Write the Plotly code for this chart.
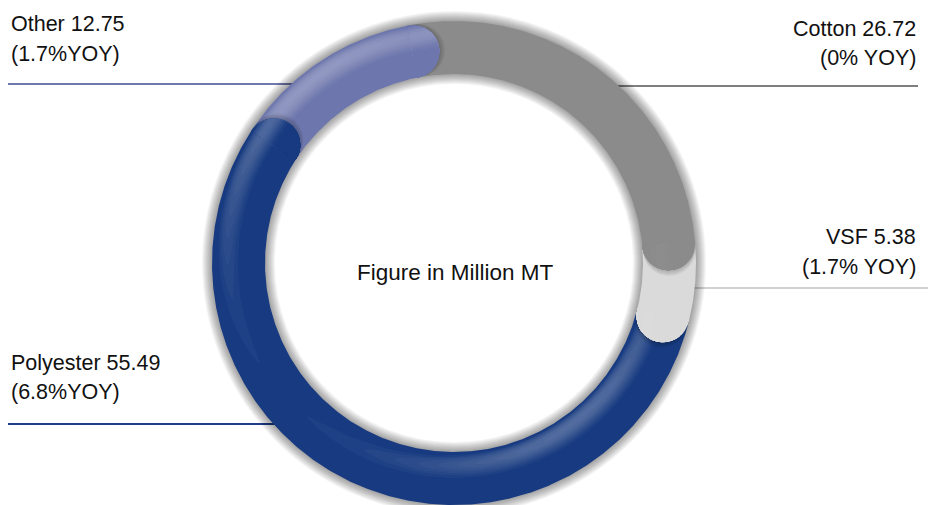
import numpy as np
import plotly.graph_objects as go

# ---- data -------------------------------------------------------------
categories = ["Cotton", "VSF", "Polyester", "Other"]
values = [26.72, 5.38, 55.49, 12.75]
yoy_labels = ["(0% YOY)", "(1.7% YOY)", "(6.8%YOY)", "(1.7%YOY)"]
base_colors = ["#8b8b8b", "#dadada", "#173a80", "#6e77ad"]
leader_colors = ["#7f7f7f", "#d2d2d2", "#1f3d86", "#6f78ae"]
highlight_strength = [0.3, 0.15, 1.0, 1.0]
center_label = "Figure in Million MT"

# ---- layout constants (pixel space, y grows downward) ------------------
W, H = 930, 505
CX, CY = 454, 263
R_IN, R_OUT = 189, 242
R_MID = (R_IN + R_OUT) / 2
HALF = (R_OUT - R_IN) / 2
START_DEG = -11.0          # clockwise from 12 o'clock
N_STRIPS = 20              # bands used for the rounded ends
N_LAYERS = 10              # translucent highlight layers along each segment
LIGHT = np.array([-0.6, -0.8])   # in-plane light direction (screen coords)
LIGHT_XY, LIGHT_Z = 0.6, 0.8
PEAK = 0.28
FONT = "Liberation Sans, Arial, Helvetica, sans-serif"
LABEL_SIZE = 21.5
CENTER_SIZE = 22.5

# label placement: (x, anchor, first baseline, second baseline, leader y, leader x-end)
label_pos = {
    "Cotton":    (918, "right", 37, 66, 86, 918),
    "VSF":       (918, "right", 245, 275, 288, 928),
    "Polyester": (9, "left", 371, 400, 424, 8),
    "Other":     (9, "left", 32, 62, 84, 8),
}


def hex_rgb(h):
    h = h.lstrip("#")
    return [int(h[i:i + 2], 16) for i in (0, 2, 4)]


def shade(hexcol, k):
    r = []
    for c in hex_rgb(hexcol):
        c = c + (255 - c) * k if k >= 0 else c * (1 + k)
        r.append(int(round(min(255, max(0, c)))))
    return "rgb(%d,%d,%d)" % tuple(r)


def polar_pt(r, deg):
    a = np.radians(deg)
    return CX + r * np.sin(a), CY - r * np.cos(a)


def local_pt(end_deg, u, v):
    """Point in the tangent frame at the end of an arc (u along clockwise tangent, v outward)."""
    a = np.radians(end_deg)
    cx, cy = polar_pt(R_MID, end_deg)
    tx, ty = np.cos(a), np.sin(a)
    nx, ny = np.sin(a), -np.cos(a)
    return cx + u * tx + v * nx, cy + u * ty + v * ny


def tube_light(t, deg, strength):
    """Highlight amount of a round tube; t in [-1, 1] from inner to outer edge."""
    a = np.radians(deg)
    facing = np.sin(a) * LIGHT[0] - np.cos(a) * LIGHT[1]
    d = t * LIGHT_XY * facing + np.sqrt(np.clip(1 - t * t, 0, 1)) * LIGHT_Z
    return strength * PEAK * np.clip((d - 0.75) / 0.25, 0, 1) ** 2


def add_poly(x, y, color):
    fig.add_trace(go.Scatter(x=x, y=y, mode="lines", fill="toself", fillcolor=color,
                             line=dict(width=0), hoverinfo="skip", showlegend=False))


fig = go.Figure()

total = sum(values)
bounds = np.concatenate([[0], np.cumsum(values)]) / total * 360.0 + START_DEG
t_grid = np.linspace(-1, 1, 401)

# ---- ring bodies with soft tube highlights ------------------------------
for i, cat in enumerate(categories):
    a0, a1 = bounds[i], bounds[i + 1]
    th = np.linspace(a0, a1, max(8, int((a1 - a0) * 3)))
    xi, yi = polar_pt(R_IN, th)
    xo, yo = polar_pt(R_OUT, th[::-1])
    add_poly(np.r_[xi, xo], np.r_[yi, yo], base_colors[i])

    kmax = highlight_strength[i] * PEAK
    if kmax <= 0:
        continue
    alpha = 1 - (1 - kmax) ** (1.0 / N_LAYERS)
    light = np.array([tube_light(t_grid, d, highlight_strength[i]) for d in th])
    for lay in range(N_LAYERS):
        level = (lay + 0.5) / N_LAYERS * kmax
        lo = np.full(len(th), np.nan)
        hi = np.full(len(th), np.nan)
        for n in range(len(th)):
            sel = t_grid[light[n] >= level]
            if sel.size:
                lo[n], hi[n] = sel.min(), sel.max()
        ok = ~np.isnan(lo)
        # one ribbon per run of consecutive angles where this level is reached
        runs, start = [], None
        for n in range(len(th)):
            if ok[n] and start is None:
                start = n
            if (not ok[n] or n == len(th) - 1) and start is not None:
                stop = n + 1 if ok[n] else n
                runs.append((start, stop))
                start = None
        for s0, s1 in runs:
            seg = th[s0:s1]
            xu, yu = polar_pt(R_MID + HALF * hi[s0:s1], seg)
            xl, yl = polar_pt(R_MID + HALF * lo[s0:s1][::-1], seg[::-1])
            add_poly(np.r_[xu, xl], np.r_[yu, yl], "rgba(255,255,255,%.4f)" % alpha)

# ---- shadows cast by the rounded ends onto the next segment -----------
phi = np.radians(np.linspace(-90, 90, 60))
for i in range(len(categories)):
    a1 = bounds[i + 1]
    for s in range(1, 7):
        us = np.r_[0, s + HALF * np.cos(phi), 0]
        vs = np.r_[-HALF, HALF * np.sin(phi), HALF]
        x, y = local_pt(a1, us, vs)
        add_poly(x, y, "rgba(0,0,0,0.035)")

# ---- rounded ends: nested half-discs, outermost first -------------------
dr = (R_OUT - R_IN) / N_STRIPS
for i in range(len(categories)):
    a1 = bounds[i + 1]
    for j in range(N_STRIPS - 1, -1, -1):
        vb = -HALF + (j + 1) * dr
        t = ((j + 0.5) / N_STRIPS) * 2 - 1
        col = shade(base_colors[i], float(tube_light(t, a1, highlight_strength[i])))
        pb = np.arcsin(np.clip(vb / HALF, -1, 1))
        ph = np.linspace(-np.pi / 2, pb, 40)
        us = np.r_[-0.8, HALF * np.cos(ph), -0.8]
        vs = np.r_[-HALF, HALF * np.sin(ph), vb]
        x, y = local_pt(a1, us, vs)
        add_poly(x, y, col)

# ---- labels, leader lines and the ring's soft shadow --------------------
shapes = []
annotations = []
for i, cat in enumerate(categories):
    x, anchor, b1, b2, ly, lx = label_pos[cat]
    for text, base in (("%s %.2f" % (cat, values[i]), b1), (yoy_labels[i], b2)):
        annotations.append(dict(x=x, y=base - 0.35 * LABEL_SIZE, xref="x", yref="y",
                                text=text, showarrow=False,
                                xanchor=anchor, yanchor="middle",
                                font=dict(family=FONT, size=LABEL_SIZE, color="#111111")))
    dx = np.sqrt(max(R_MID ** 2 - (ly - CY) ** 2, 0))
    x_ring = CX + dx if anchor == "right" else CX - dx
    shapes.append(dict(type="line", xref="x", yref="y", x0=lx, x1=x_ring,
                       y0=ly, y1=ly, layer="below",
                       line=dict(color=leader_colors[i], width=2)))

for k in range(10, 0, -1):
    shapes.append(dict(type="circle", xref="x", yref="y", layer="below",
                       x0=CX - R_MID, x1=CX + R_MID, y0=CY - R_MID, y1=CY + R_MID,
                       line=dict(color="rgba(0,0,0,0.04)", width=2 * HALF + 2 * k),
                       fillcolor="rgba(0,0,0,0)"))

annotations.append(dict(x=CX + 1, y=280 - 0.35 * CENTER_SIZE, xref="x", yref="y",
                        text=center_label, showarrow=False,
                        xanchor="center", yanchor="middle",
                        font=dict(family=FONT, size=CENTER_SIZE, color="#111111")))

fig.update_layout(
    width=W, height=H,
    margin=dict(l=0, r=0, t=0, b=0),
    paper_bgcolor="white", plot_bgcolor="white",
    xaxis=dict(range=[0, W], visible=False, fixedrange=True),
    yaxis=dict(range=[H, 0], visible=False, fixedrange=True),
    shapes=shapes, annotations=annotations,
    showlegend=False,
)

fig.write_html("out.html")
